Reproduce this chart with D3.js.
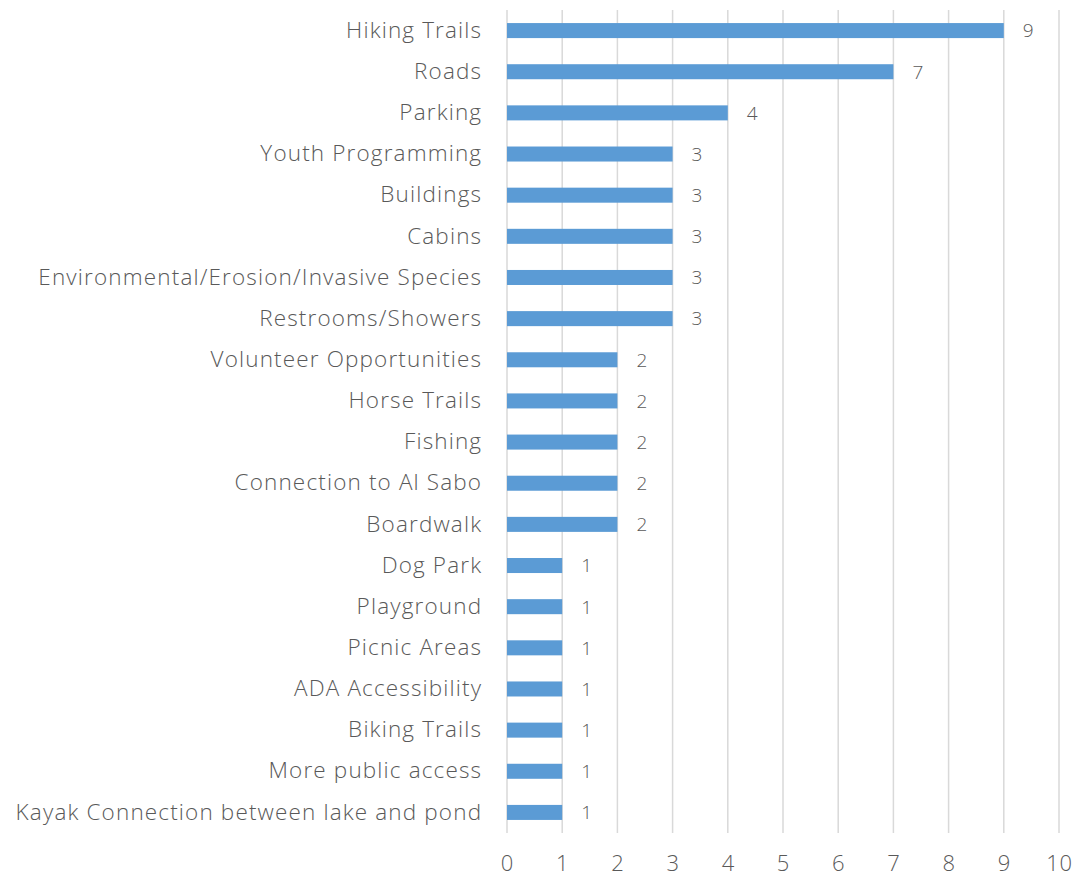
<!DOCTYPE html>
<html>
<head>
<meta charset="utf-8">
<script src="https://cdn.jsdelivr.net/npm/d3@7"></script>
<style>
  html, body { margin: 0; padding: 0; background: #fff; }
  svg text { font-family: "Open Sans", Lato, sans-serif; font-weight: 300; fill: #595959; }
</style>
</head>
<body>
<svg id="chart" width="1078" height="878"></svg>
<script>
// Survey responses: requested park improvements
const categories = [
  "Hiking Trails", "Roads", "Parking", "Youth Programming", "Buildings", "Cabins",
  "Environmental/Erosion/Invasive Species", "Restrooms/Showers", "Volunteer Opportunities",
  "Horse Trails", "Fishing", "Connection to Al Sabo", "Boardwalk", "Dog Park", "Playground",
  "Picnic Areas", "ADA Accessibility", "Biking Trails", "More public access",
  "Kayak Connection between lake and pond"
];
const counts = [9, 7, 4, 3, 3, 3, 3, 3, 2, 2, 2, 2, 2, 1, 1, 1, 1, 1, 1, 1];
const tickValues = [0, 1, 2, 3, 4, 5, 6, 7, 8, 9, 10];

const svg = d3.select("#chart");
const plotLeft = 507, plotRight = 1059, plotTop = 10, plotBottom = 833;

const x = d3.scaleLinear().domain([0, 10]).range([plotLeft, plotRight]);
const y = d3.scaleBand().domain(categories).range([plotTop, plotBottom]).paddingInner(0.635).paddingOuter(0.3175);

// vertical gridlines
svg.append("g")
  .selectAll("line")
  .data(tickValues)
  .join("line")
  .attr("x1", d => x(d)).attr("x2", d => x(d))
  .attr("y1", plotTop).attr("y2", plotBottom)
  .attr("stroke", "#d9d9d9").attr("stroke-width", 1.5);

// x axis tick labels
const xAxis = d3.axisBottom(x).tickValues(tickValues).tickSize(0).tickPadding(0);
const gx = svg.append("g").attr("transform", `translate(0,${plotBottom})`).call(xAxis);
gx.select(".domain").remove();
gx.selectAll("text")
  .attr("y", 38).attr("dy", 0)
  .style("font-size", "22px")
  .style("letter-spacing", "0.8px");

// category labels
const yAxis = d3.axisLeft(y).tickSize(0).tickPadding(0);
const gy = svg.append("g").attr("transform", `translate(482.2,0)`).call(yAxis);
gy.select(".domain").remove();
gy.selectAll("text")
  .attr("dy", "0.32em")
  .style("font-size", "22.5px")
  .style("letter-spacing", "1.15px");

// bars
svg.append("g")
  .selectAll("rect")
  .data(categories)
  .join("rect")
  .attr("x", x(0))
  .attr("y", d => y(d))
  .attr("width", (d, i) => x(counts[i]) - x(0))
  .attr("height", y.bandwidth())
  .attr("fill", "#5b9bd5");

// value labels
svg.append("g")
  .selectAll("text")
  .data(categories)
  .join("text")
  .attr("x", (d, i) => x(counts[i]) + 19)
  .attr("y", d => y(d) + y.bandwidth() / 2)
  .attr("dy", "0.36em")
  .style("font-size", "19px")
  .text((d, i) => counts[i]);
</script>
</body>
</html>
